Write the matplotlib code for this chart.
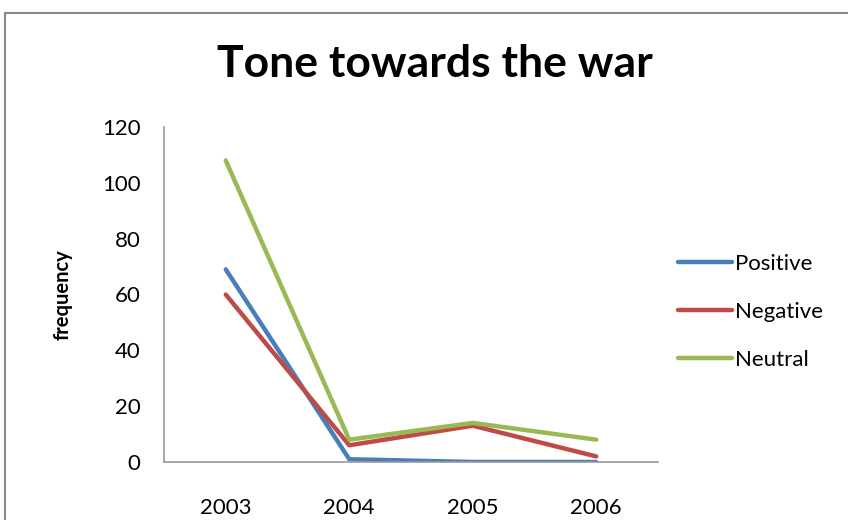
import matplotlib
matplotlib.use("Agg")
import matplotlib.pyplot as plt
from matplotlib.patches import Rectangle

years = ["2003", "2004", "2005", "2006"]
positive = [69, 1, 0, 0]
negative = [60, 6, 13, 2]
neutral = [108, 8, 14, 8]
series_names = ["Positive", "Negative", "Neutral"]
colors = ["#4a7ebb", "#be4b48", "#98b954"]

plt.rcParams["font.family"] = ["Lato", "DejaVu Sans"]

W, H = 848, 520
fig = plt.figure(figsize=(W / 100, H / 100), dpi=100)

# outer chart frame
fig.patches.append(Rectangle((5 / W, -0.1), 1.2, (H - 13) / H + 0.1,
                             transform=fig.transFigure, fill=False,
                             edgecolor="#888888", linewidth=1.5))

ax = fig.add_axes([164 / W, (H - 462) / H, (658 - 164) / W, (462 - 127) / H])
x = range(len(years))
for vals, name, c in zip([positive, negative, neutral], series_names, colors):
    ax.plot(x, vals, color=c, linewidth=3.2, label=name, solid_capstyle="round")

ax.set_xlim(-0.5, len(years) - 0.5)
ax.set_ylim(0, 120)
ax.set_yticks(range(0, 121, 20))
ax.set_xticks(list(x))
ax.set_xticklabels(years)
for s in ["top", "right"]:
    ax.spines[s].set_visible(False)
for s in ["left", "bottom"]:
    ax.spines[s].set_color("#999999")
    ax.spines[s].set_linewidth(1.2)
ax.tick_params(axis="y", length=0, pad=17, labelsize=16, colors="#000000")
ax.tick_params(axis="x", length=0, pad=26, labelsize=16, colors="#000000")
ax.set_ylabel("frequency", fontsize=14.5, fontweight="bold", labelpad=21)

fig.text(435 / W, (H - 64) / H, "Tone towards the war", ha="center", va="center",
         fontsize=32, fontweight="bold")

ax.legend(loc="center left", bbox_to_anchor=(669 / W, (H - 312) / H),
          bbox_transform=fig.transFigure, frameon=False, fontsize=16,
          handlelength=2.45, handletextpad=0.1, labelspacing=1.27,
          borderaxespad=0)

fig.savefig("out.png", dpi=100)
